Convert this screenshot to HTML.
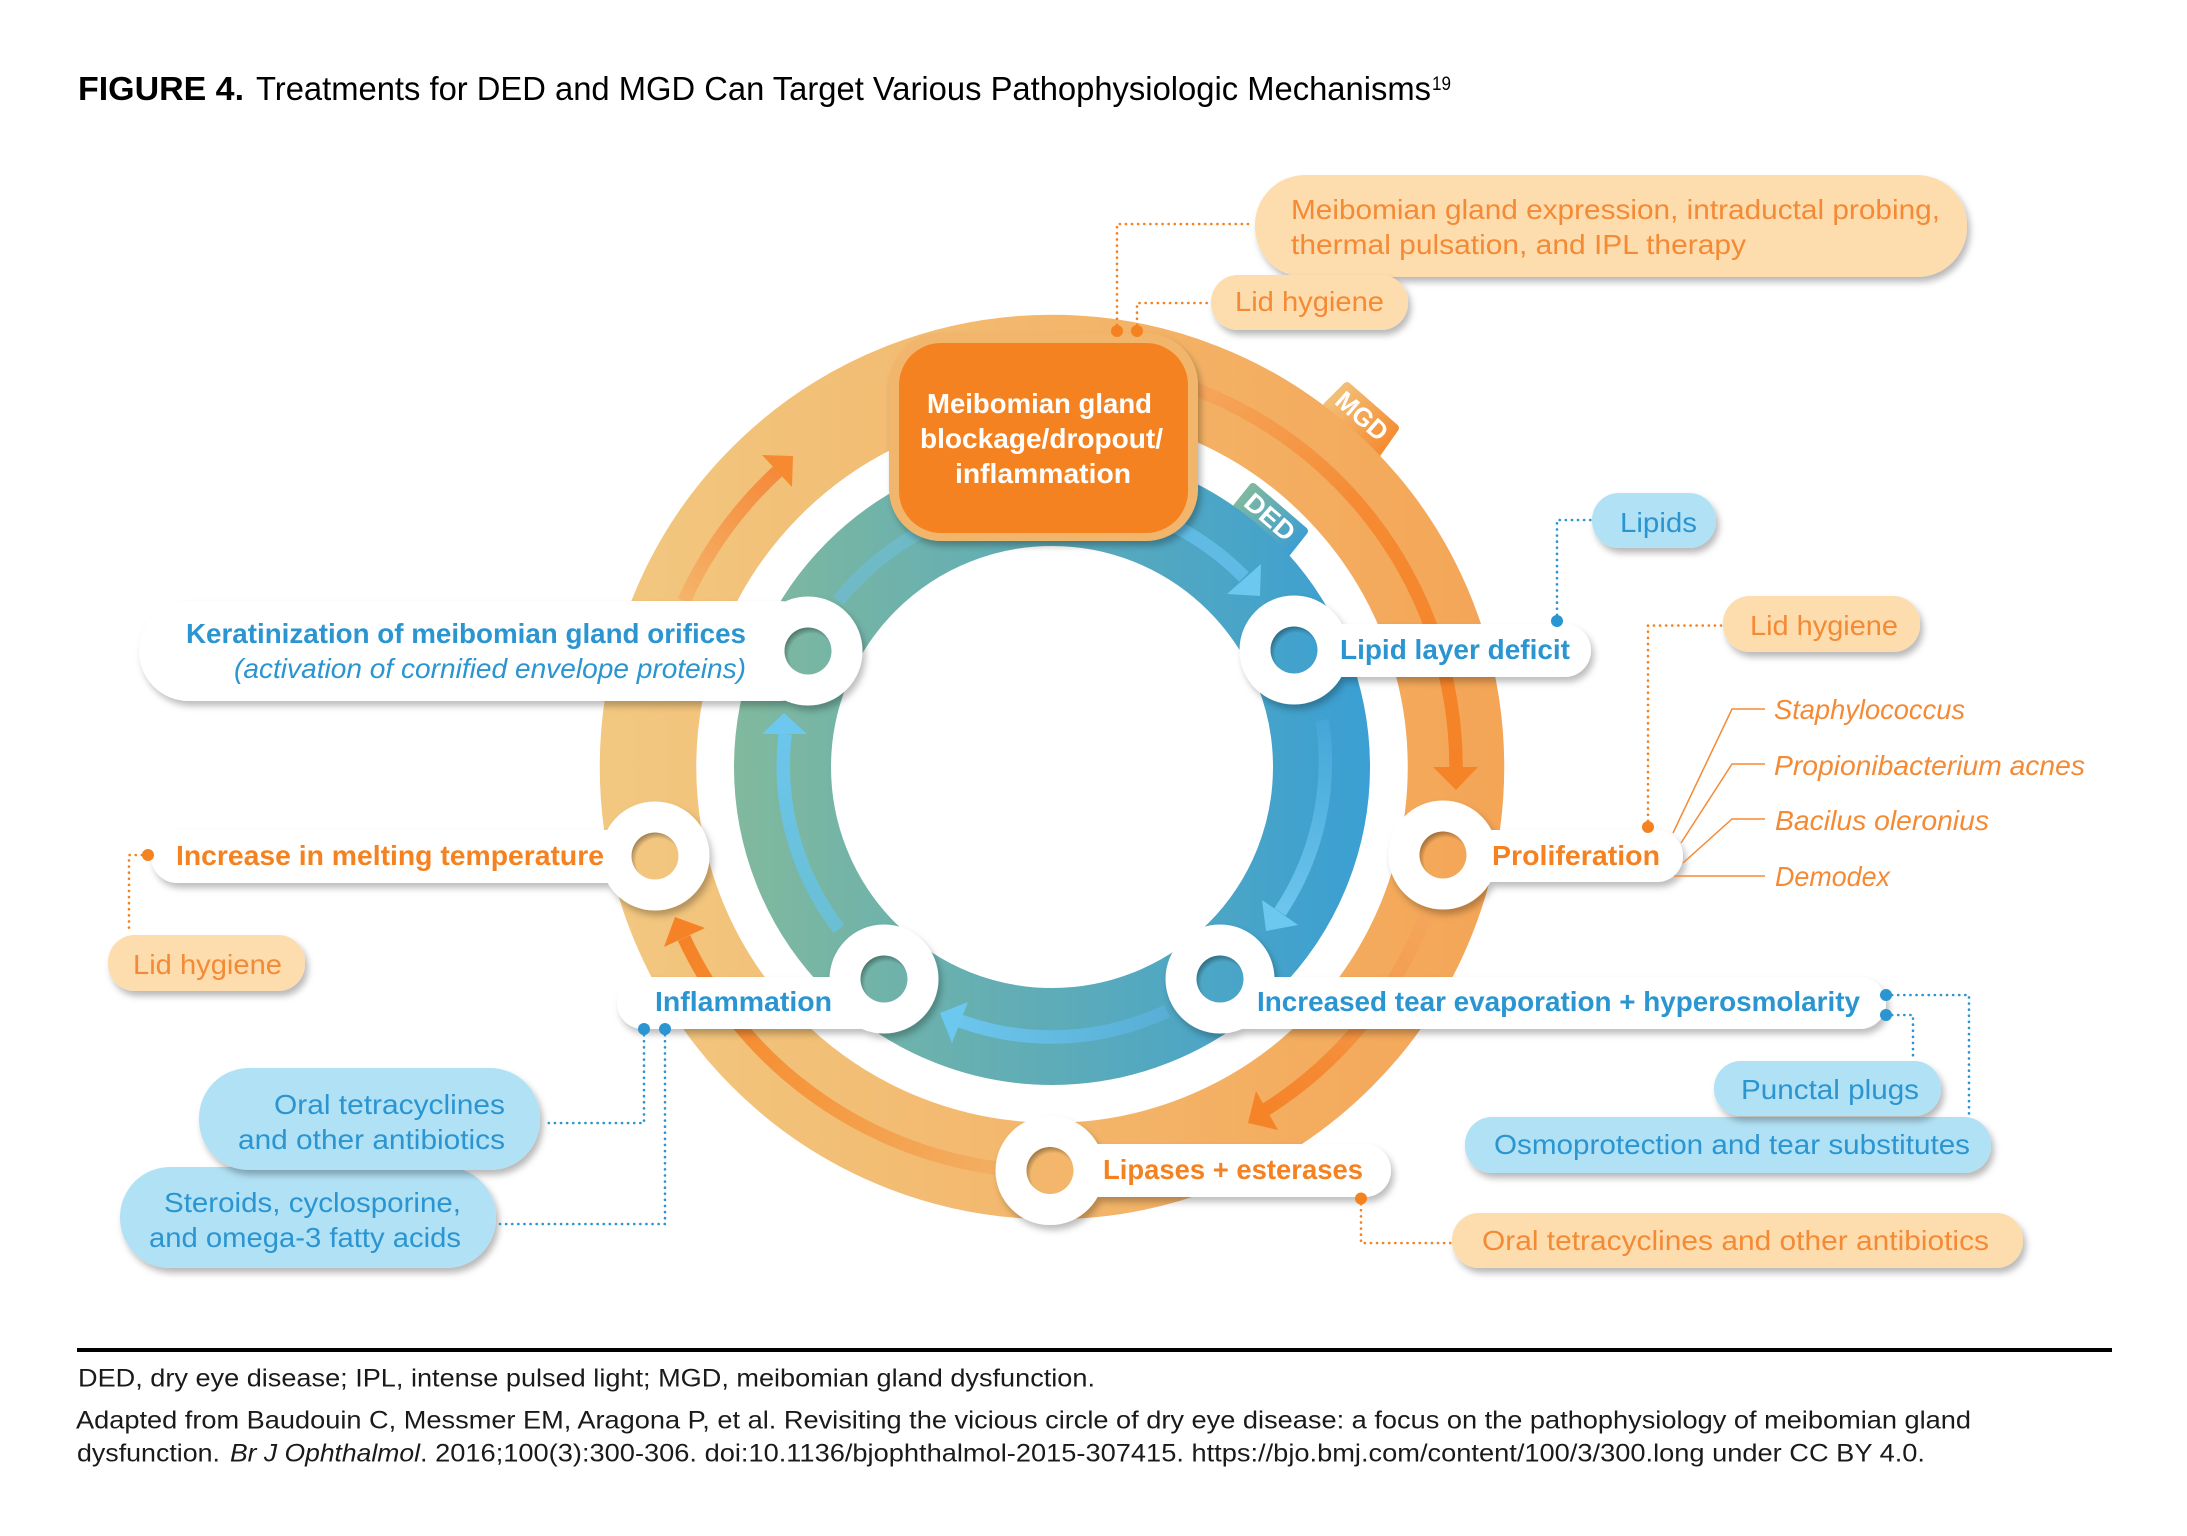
<!DOCTYPE html>
<html><head><meta charset="utf-8"><style>
html,body{margin:0;padding:0;background:#fff}
svg{display:block}
text{font-family:"Liberation Sans",sans-serif}
.b{font-weight:bold}
.bl{fill:#2a95d0}
.or{fill:#f58220}
.po{fill:#f58a35}
.i{font-style:italic}
.dot{fill:none;stroke-width:2.6;stroke-dasharray:0.1 6;stroke-linecap:round}
</style></head><body>
<svg xmlns="http://www.w3.org/2000/svg" width="2187" height="1536" viewBox="0 0 2187 1536">
<defs>
<filter id="sh" x="-20%" y="-40%" width="140%" height="180%"><feDropShadow dx="3" dy="5" stdDeviation="3.5" flood-color="#000" flood-opacity="0.28"/></filter>
<filter id="shAll" filterUnits="userSpaceOnUse" x="0" y="0" width="2187" height="1536"><feDropShadow dx="3" dy="5" stdDeviation="3.5" flood-color="#000" flood-opacity="0.26"/></filter>
<linearGradient id="ro" gradientUnits="userSpaceOnUse" x1="599" y1="0" x2="1504" y2="0"><stop offset="0" stop-color="#f2c881"/><stop offset="1" stop-color="#f4a556"/></linearGradient>
<linearGradient id="ri" gradientUnits="userSpaceOnUse" x1="734" y1="0" x2="1369" y2="0"><stop offset="0" stop-color="#81b99d"/><stop offset="1" stop-color="#3a9fd3"/></linearGradient>
<linearGradient id="tm" gradientUnits="userSpaceOnUse" x1="1335" y1="392" x2="1390" y2="441"><stop offset="0" stop-color="#f2c078"/><stop offset="1" stop-color="#f58d33"/></linearGradient>
<linearGradient id="td" gradientUnits="userSpaceOnUse" x1="1243" y1="493" x2="1298" y2="542"><stop offset="0" stop-color="#7fb99f"/><stop offset="1" stop-color="#3f9fd0"/></linearGradient>
<linearGradient id="a1" gradientUnits="userSpaceOnUse" x1="684" y1="601" x2="778" y2="471"><stop offset="0" stop-color="#f5b46a"/><stop offset="1" stop-color="#f5893a"/></linearGradient>
<linearGradient id="a2" gradientUnits="userSpaceOnUse" x1="1200" y1="385" x2="1456" y2="770"><stop offset="0" stop-color="#f5a65c"/><stop offset=".4" stop-color="#f58b33"/><stop offset="1" stop-color="#f58226"/></linearGradient>
<linearGradient id="a3" gradientUnits="userSpaceOnUse" x1="1426" y1="915" x2="1265" y2="1110"><stop offset="0" stop-color="#f4a65a"/><stop offset=".35" stop-color="#f49c50"/><stop offset=".7" stop-color="#f58a35"/><stop offset="1" stop-color="#f58428"/></linearGradient>
<linearGradient id="a4" gradientUnits="userSpaceOnUse" x1="996" y1="1170" x2="684" y2="938"><stop offset="0" stop-color="#f3ae62"/><stop offset=".5" stop-color="#f5983f"/><stop offset="1" stop-color="#f58226"/></linearGradient>
<linearGradient id="ab" gradientUnits="userSpaceOnUse" x1="1322" y1="720" x2="1280" y2="912"><stop offset="0" stop-color="#45a6d7"/><stop offset="1" stop-color="#6cc5ec"/></linearGradient>
<linearGradient id="ac" gradientUnits="userSpaceOnUse" x1="1167" y1="1011" x2="960" y2="1021"><stop offset="0" stop-color="#58aed4"/><stop offset="1" stop-color="#6cc5ec"/></linearGradient>
<linearGradient id="ad" gradientUnits="userSpaceOnUse" x1="839" y1="929" x2="785" y2="734"><stop offset="0" stop-color="#6abfd2"/><stop offset="1" stop-color="#6cc5ec"/></linearGradient>
<radialGradient id="ins" cx=".57" cy=".6" r=".6"><stop offset=".78" stop-color="#000" stop-opacity="0"/><stop offset="1" stop-color="#000" stop-opacity=".32"/></radialGradient>
<mask id="holes" maskUnits="userSpaceOnUse" x="0" y="0" width="2187" height="1536">
<rect width="2187" height="1536" fill="#fff"/>
<g fill="#000"><circle cx="808" cy="651" r="23.5"/><circle cx="1294" cy="650" r="23.5"/><circle cx="1443" cy="855" r="23.5"/><circle cx="1220" cy="979" r="23.5"/><circle cx="1050" cy="1170.5" r="23.5"/><circle cx="884" cy="979" r="23.5"/><circle cx="655" cy="856" r="23.5"/></g>
</mask>
</defs>
<rect width="2187" height="1536" fill="#fff"/>

<!-- title -->
<text x="78" y="100" class="b" font-size="33" textLength="166" lengthAdjust="spacingAndGlyphs">FIGURE 4.</text>
<text x="256" y="100" font-size="33" textLength="1175" lengthAdjust="spacingAndGlyphs">Treatments for DED and MGD Can Target Various Pathophysiologic Mechanisms</text>
<text x="1432" y="90" font-size="19" textLength="19" lengthAdjust="spacingAndGlyphs">19</text>

<!-- tags -->
<polygon points="1347,386 1395,428 1376,455 1327,406" fill="url(#tm)" stroke="url(#tm)" stroke-width="8" stroke-linejoin="round"/>
<polygon points="1253,487 1304,531 1285,555 1237,507" fill="url(#td)" stroke="url(#td)" stroke-width="8" stroke-linejoin="round"/>

<!-- rings -->
<circle cx="1052" cy="767" r="404" fill="none" stroke="url(#ro)" stroke-width="96.5"/>
<circle cx="1052" cy="767" r="269.5" fill="none" stroke="url(#ri)" stroke-width="97"/>
<text transform="translate(1362,416) rotate(41)" y="9" text-anchor="middle" class="b" font-size="26" fill="#fff" textLength="60" lengthAdjust="spacingAndGlyphs">MGD</text>
<text transform="translate(1270,517) rotate(41)" y="9" text-anchor="middle" class="b" font-size="26" fill="#fff" textLength="58" lengthAdjust="spacingAndGlyphs">DED</text>

<!-- ring arrows outer -->
<g fill="none" stroke-width="13.5">
<path d="M684,601 A404,404 0 0 1 778,471" stroke="url(#a1)"/>
<path d="M1150,375 A404,404 0 0 1 1456,770" stroke="url(#a2)"/>
<path d="M1426,915 A404,404 0 0 1 1265,1110" stroke="url(#a3)"/>
<path d="M996,1168 A404,404 0 0 1 684,938" stroke="url(#a4)"/>
</g>
<polygon points="762,455 793,456 792,487" fill="#f58a30"/>
<polygon points="1433,767 1478,767 1456,790" fill="#f58428"/>
<polygon points="1256,1091 1248,1123 1278,1130" fill="#f58428"/>
<polygon points="675,917 705,928 664,947" fill="#f58226"/>

<!-- ring arrows inner -->
<g fill="none" stroke-width="13.5">
<path d="M1120,505 A270,270 0 0 1 1244,577" stroke="#5fbbe4"/>
<path d="M1322,720 A270,270 0 0 1 1280,912" stroke="url(#ab)"/>
<path d="M1167,1011 A270,270 0 0 1 960,1021" stroke="url(#ac)"/>
<path d="M839,929 A270,270 0 0 1 785,734" stroke="url(#ad)"/>
<path d="M838,601 A270,270 0 0 1 919,533" stroke="#6ebcd0" opacity=".75"/>
</g>
<polygon points="1261,564 1260,596 1227,594" fill="#6cc8ee"/>
<polygon points="1262,900 1298,925 1266,931" fill="#6cc8ee"/>
<polygon points="968,1002 940,1013 952,1043" fill="#6cc8ee"/>
<polygon points="762,734 784,713 807,734" fill="#6cc8ee"/>

<!-- top box -->
<rect x="889" y="333" width="309" height="208" rx="52" fill="#f2b56c" filter="url(#sh)"/>
<rect x="899" y="343" width="289" height="190" rx="42" fill="#f58220"/>
<g class="b" fill="#fff" font-size="28" font-weight="bold">
<text x="927" y="413" textLength="225" lengthAdjust="spacingAndGlyphs">Meibomian gland</text>
<text x="920" y="448" textLength="243" lengthAdjust="spacingAndGlyphs">blockage/dropout/</text>
<text x="955" y="483" textLength="176" lengthAdjust="spacingAndGlyphs">inflammation</text>
</g>

<!-- nodes -->
<g mask="url(#holes)"><g filter="url(#shAll)" fill="#fff">
<rect x="139" y="601" width="690" height="100" rx="50"/><circle cx="808" cy="651" r="54.5"/>
<rect x="1280" y="624" width="311" height="53" rx="26.5"/><circle cx="1294" cy="650" r="54.5"/>
<rect x="1430" y="830" width="253" height="52" rx="26"/><circle cx="1443" cy="855" r="54.5"/>
<rect x="1200" y="977" width="686" height="52" rx="26"/><circle cx="1220" cy="979" r="54.5"/>
<rect x="1040" y="1144" width="351" height="53" rx="26.5"/><circle cx="1050" cy="1170.5" r="54.5"/>
<rect x="617" y="977" width="280" height="52" rx="26"/><circle cx="884" cy="979" r="54.5"/>
<rect x="151" y="830" width="520" height="53" rx="26.5"/><circle cx="655" cy="856" r="54.5"/>
</g></g>
<g fill="url(#ins)"><circle cx="808" cy="651" r="23.5"/><circle cx="1294" cy="650" r="23.5"/><circle cx="1443" cy="855" r="23.5"/><circle cx="1220" cy="979" r="23.5"/><circle cx="1050" cy="1170.5" r="23.5"/><circle cx="884" cy="979" r="23.5"/><circle cx="655" cy="856" r="23.5"/></g>

<!-- callout pills -->
<rect x="1255" y="175" width="712" height="102" rx="50" fill="#fddcae" filter="url(#sh)"/>
<rect x="1211" y="275" width="197" height="55" rx="27" fill="#fddcae" filter="url(#sh)"/>
<rect x="1592" y="493" width="124" height="55" rx="27" fill="#b1e1f5" filter="url(#sh)"/>
<rect x="1723" y="596" width="197" height="56" rx="27" fill="#fddcae" filter="url(#sh)"/>
<rect x="108" y="935" width="197" height="56" rx="27" fill="#fddcae" filter="url(#sh)"/>
<rect x="120" y="1167" width="376" height="101" rx="50" fill="#b1e1f5" filter="url(#sh)"/>
<rect x="199" y="1068" width="341" height="102" rx="50" fill="#b1e1f5" filter="url(#sh)"/>
<rect x="1465" y="1117" width="526" height="56" rx="27" fill="#b1e1f5" filter="url(#sh)"/>
<rect x="1714" y="1061" width="227" height="55" rx="27" fill="#b1e1f5" filter="url(#sh)"/>
<rect x="1452" y="1213" width="571" height="55" rx="27" fill="#fddcae" filter="url(#sh)"/>

<!-- connectors -->
<g stroke="#f58220">
<path class="dot" d="M1117,331 V224 H1251"/>
<path class="dot" d="M1137,331 V303 H1207"/>
<path class="dot" d="M1648,827 V625.5 H1723"/>
<path class="dot" d="M148,855 H129 V933"/>
<path class="dot" d="M1361,1198 V1243 H1452"/>
</g>
<g stroke="#2a95d0">
<path class="dot" d="M1557,621 V520 H1592"/>
<path class="dot" d="M644,1029 V1123 H544"/>
<path class="dot" d="M665,1029 V1224 H498"/>
<path class="dot" d="M1886,995 H1969 V1115"/>
<path class="dot" d="M1886,1015 H1913 V1061"/>
</g>
<g fill="#f58220"><circle cx="1117" cy="331" r="6"/><circle cx="1137" cy="331" r="6"/><circle cx="1648" cy="827" r="6"/><circle cx="148" cy="855" r="6"/><circle cx="1361" cy="1198.5" r="6"/></g>
<g fill="#2a95d0"><circle cx="1557" cy="621" r="6"/><circle cx="644" cy="1029" r="6"/><circle cx="665" cy="1029" r="6"/><circle cx="1886" cy="995" r="6"/><circle cx="1886" cy="1015" r="6"/></g>
<g fill="none" stroke="#f58a35" stroke-width="1.5">
<path d="M1765,709 H1732 L1673,833"/>
<path d="M1765,764 H1732 L1681,843"/>
<path d="M1765,819 H1732 L1683,863"/>
<path d="M1765,876 H1674"/>
</g>

<!-- bold node labels -->
<g font-size="28" font-weight="bold">
<text x="186" y="643" class="bl" textLength="560" lengthAdjust="spacingAndGlyphs">Keratinization of meibomian gland orifices</text>
<text x="1340" y="659" class="bl" textLength="230" lengthAdjust="spacingAndGlyphs">Lipid layer deficit</text>
<text x="1492" y="865" class="or" textLength="168" lengthAdjust="spacingAndGlyphs">Proliferation</text>
<text x="1257" y="1011" class="bl" textLength="603" lengthAdjust="spacingAndGlyphs">Increased tear evaporation + hyperosmolarity</text>
<text x="1103" y="1179" class="or" textLength="260" lengthAdjust="spacingAndGlyphs">Lipases + esterases</text>
<text x="655" y="1011" class="bl" textLength="177" lengthAdjust="spacingAndGlyphs">Inflammation</text>
<text x="176" y="865" class="or" textLength="428" lengthAdjust="spacingAndGlyphs">Increase in melting temperature</text>
</g>
<text x="234" y="678" class="bl i" font-size="28" textLength="512" lengthAdjust="spacingAndGlyphs">(activation of cornified envelope proteins)</text>

<!-- callout text -->
<g font-size="28">
<text x="1291" y="219" class="po" textLength="649" lengthAdjust="spacingAndGlyphs">Meibomian gland expression, intraductal probing,</text>
<text x="1291" y="254" class="po" textLength="455" lengthAdjust="spacingAndGlyphs">thermal pulsation, and IPL therapy</text>
<text x="1235" y="311" class="po" textLength="149" lengthAdjust="spacingAndGlyphs">Lid hygiene</text>
<text x="1620" y="532" class="bl" textLength="77" lengthAdjust="spacingAndGlyphs">Lipids</text>
<text x="1750" y="635" class="po" textLength="148" lengthAdjust="spacingAndGlyphs">Lid hygiene</text>
<text x="133" y="974" class="po" textLength="149" lengthAdjust="spacingAndGlyphs">Lid hygiene</text>
<text x="274" y="1114" class="bl" textLength="231" lengthAdjust="spacingAndGlyphs">Oral tetracyclines</text>
<text x="238" y="1149" class="bl" textLength="267" lengthAdjust="spacingAndGlyphs">and other antibiotics</text>
<text x="164" y="1212" class="bl" textLength="297" lengthAdjust="spacingAndGlyphs">Steroids, cyclosporine,</text>
<text x="149" y="1247" class="bl" textLength="312" lengthAdjust="spacingAndGlyphs">and omega-3 fatty acids</text>
<text x="1741" y="1099" class="bl" textLength="178" lengthAdjust="spacingAndGlyphs">Punctal plugs</text>
<text x="1494" y="1154" class="bl" textLength="476" lengthAdjust="spacingAndGlyphs">Osmoprotection and tear substitutes</text>
<text x="1482" y="1250" class="po" textLength="507" lengthAdjust="spacingAndGlyphs">Oral tetracyclines and other antibiotics</text>
</g>
<g font-size="28">
<text x="1774" y="719" class="po i" textLength="191" lengthAdjust="spacingAndGlyphs">Staphylococcus</text>
<text x="1774" y="775" class="po i" textLength="311" lengthAdjust="spacingAndGlyphs">Propionibacterium acnes</text>
<text x="1775" y="830" class="po i" textLength="214" lengthAdjust="spacingAndGlyphs">Bacilus oleronius</text>
<text x="1775" y="886" class="po i" textLength="115" lengthAdjust="spacingAndGlyphs">Demodex</text>
</g>

<!-- footer -->
<rect x="77" y="1348" width="2035" height="4" fill="#000"/>
<g font-size="25" fill="#1a1a1a">
<text x="78" y="1386.5" textLength="1017" lengthAdjust="spacingAndGlyphs">DED, dry eye disease; IPL, intense pulsed light; MGD, meibomian gland dysfunction.</text>
<text x="76" y="1428.5" textLength="1895" lengthAdjust="spacingAndGlyphs">Adapted from Baudouin C, Messmer EM, Aragona P, et al. Revisiting the vicious circle of dry eye disease: a focus on the pathophysiology of meibomian gland</text>
<text x="77" y="1461.5" textLength="143" lengthAdjust="spacingAndGlyphs">dysfunction.</text>
<text x="230" y="1461.5" class="i" textLength="190" lengthAdjust="spacingAndGlyphs">Br J Ophthalmol</text>
<text x="420" y="1461.5" textLength="1505" lengthAdjust="spacingAndGlyphs">. 2016;100(3):300-306. doi:10.1136/bjophthalmol-2015-307415.  https://bjo.bmj.com/content/100/3/300.long under CC BY 4.0.</text>
</g>
</svg>
</body></html>
